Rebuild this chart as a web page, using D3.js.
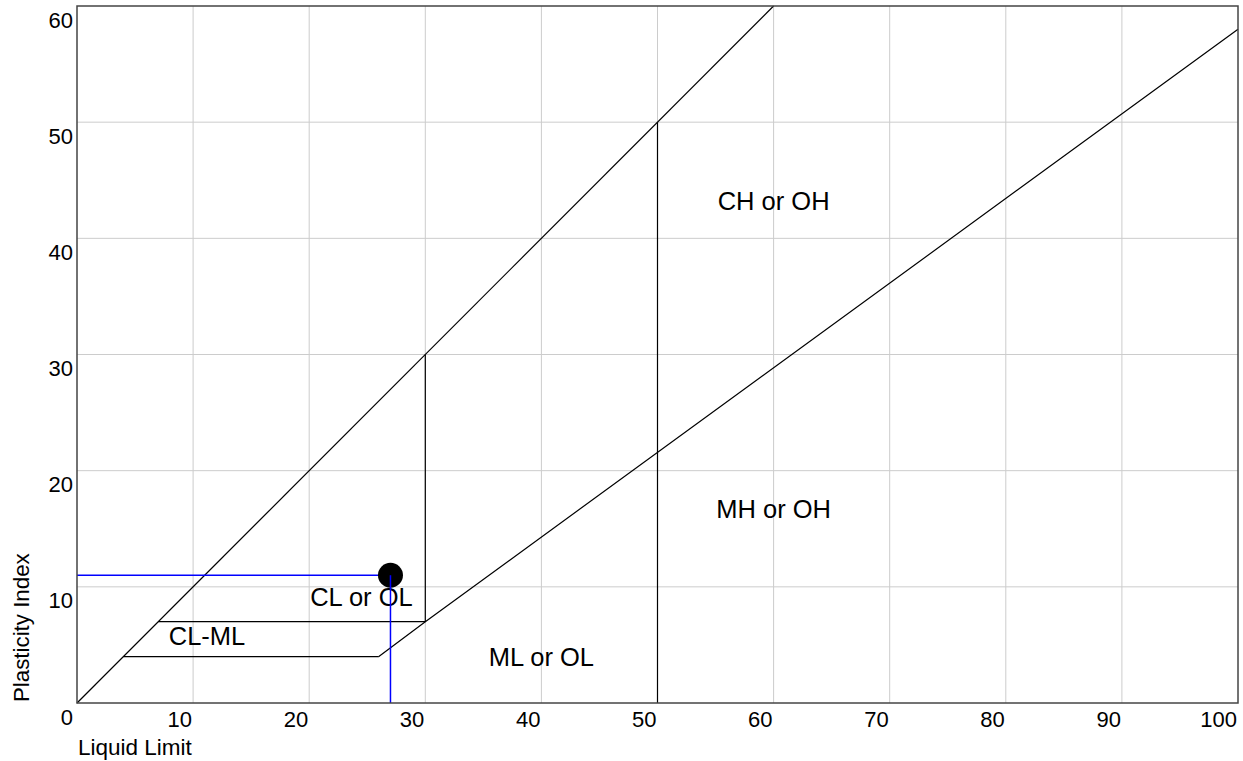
<!DOCTYPE html>
<html><head><meta charset="utf-8">
<script src="https://cdn.jsdelivr.net/npm/d3@7"></script>
<style>body{margin:0;background:#fff;}svg{display:block;font-family:"Liberation Sans",Arial,sans-serif;}</style>
</head><body>
<svg id="c" width="1243" height="761"></svg>
<script>
// Data
const xTicks = [10,20,30,40,50,60,70,80,90,100];
const yTicks = [0,10,20,30,40,50,60];
const upperLine = [[0,0],[60,60]];
const aLine = [[26,4],[30,7],[100,58]];
const clmlLow = [[4,4],[26,4]];
const clmlHigh = [[7,7],[30,7]];
const vert30 = [[30,7],[30,30]];
const vert50 = [[50,0],[50,50]];
const regionNames = ["CH or OH","MH or OH","ML or OL","CL-ML","CL or OL"];
const regionLL = [60,60,40,11.2,24.5];
const regionPI = [43.2,16.7,4,5.8,9.1];
const sampleLL = [27];
const samplePI = [11];

const svg = d3.select("#c");
const L=77,R=1238,T=6,B=703;
const x = d3.scaleLinear().domain([0,100]).range([L,R]);
const y = d3.scaleLinear().domain([0,60]).range([B,T]);

// grid
const g = svg.append("g");
g.selectAll(".gx").data(xTicks.filter(d=>d<100)).join("line")
 .attr("x1",d=>x(d)).attr("x2",d=>x(d)).attr("y1",T).attr("y2",B)
 .attr("stroke","#cccccc").attr("stroke-width",1);
g.selectAll(".gy").data(yTicks.filter(d=>d>0&&d<60)).join("line")
 .attr("y1",d=>y(d)).attr("y2",d=>y(d)).attr("x1",L).attr("x2",R)
 .attr("stroke","#cccccc").attr("stroke-width",1);

// tick labels
svg.selectAll(".xt").data(xTicks).join("text")
 .attr("x",d=>x(d)-1).attr("y",B+24).attr("text-anchor","end")
 .attr("font-size",22).attr("fill","#000").text(d=>d);
svg.selectAll(".yt").data(yTicks).join("text")
 .attr("x",L-4).attr("y",d=>y(d)+21.5).attr("text-anchor","end")
 .attr("font-size",22).attr("fill","#000").text(d=>d);

// axis titles
svg.append("text").attr("x",L+1).attr("y",755).attr("font-size",22.5).text("Liquid Limit");
svg.append("text").attr("transform","translate(29,702) rotate(-90)").attr("font-size",22.3).text("Plasticity Index");

// chart lines
const line = d3.line().x(d=>x(d[0])).y(d=>y(d[1]));
[upperLine,aLine,clmlLow,clmlHigh,vert30,vert50].forEach(p=>{
  svg.append("path").attr("d",line(p)).attr("fill","none").attr("stroke","#000").attr("stroke-width",1.2);
});

// region labels
svg.selectAll(".rl").data(regionNames).join("text")
 .attr("x",(d,i)=>x(regionLL[i])).attr("y",(d,i)=>y(regionPI[i]))
 .attr("text-anchor","middle").attr("dominant-baseline","central")
 .attr("font-size",25.5).attr("fill","#000").text(d=>d);

// sample point
sampleLL.forEach((ll,i)=>{
  const pi = samplePI[i];
  svg.append("line").attr("x1",x(0)).attr("x2",x(ll)).attr("y1",y(pi)).attr("y2",y(pi))
    .attr("stroke","#0000ff").attr("stroke-width",1.5);
  svg.append("circle").attr("cx",x(ll)).attr("cy",y(pi)).attr("r",12.5).attr("fill","#000");
  svg.append("line").attr("x1",x(ll)).attr("x2",x(ll)).attr("y1",y(pi)).attr("y2",y(0))
    .attr("stroke","#0000ff").attr("stroke-width",1.5);
});

// frame
svg.append("rect").attr("x",L).attr("y",T).attr("width",R-L).attr("height",B-T)
 .attr("fill","none").attr("stroke","#444").attr("stroke-width",1.5);
</script>
</body></html>
